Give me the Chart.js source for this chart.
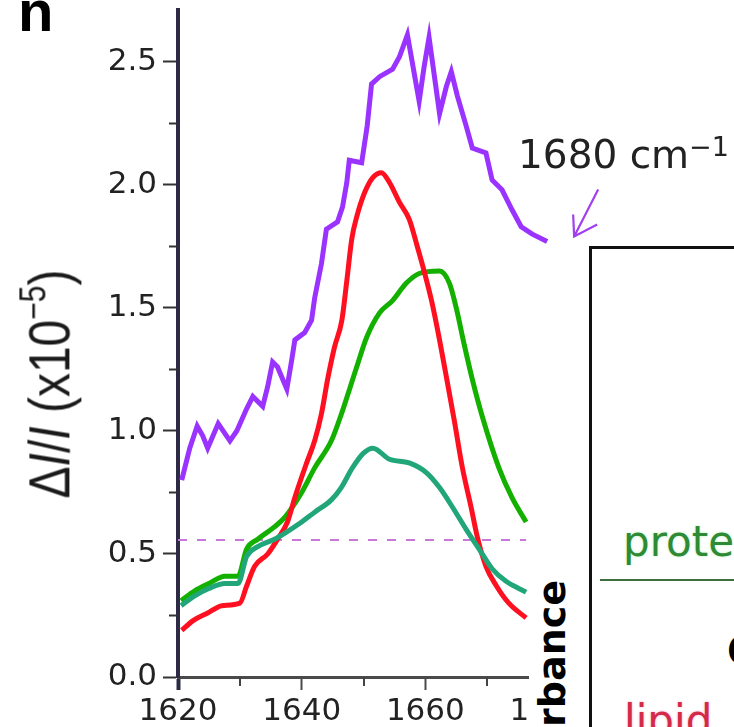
<!DOCTYPE html>
<html>
<head>
<meta charset="utf-8">
<script src="https://cdn.jsdelivr.net/npm/chart.js@4"></script>
<style>
  html, body { margin: 0; padding: 0; background: #fff; overflow: hidden; }
  #wrap { position: relative; width: 734px; height: 727px; overflow: hidden; }
  #chart { position: absolute; left: 0; top: 0; }
  .txt { position: absolute; white-space: nowrap; line-height: 1; }
  #panel { left: 18px; top: -23px; font: bold 58px "Liberation Sans", Arial, sans-serif; color: #000; }
  #ytitle { left: 50px; top: 384px; font: 48px "Liberation Sans", Arial, sans-serif; color: #1a1a1a;
            transform: translate(-50%, -50%) rotate(-90deg) scaleY(1.2); }
  #ytitle sup { font-size: 30px; vertical-align: 20px; line-height: 0; }
  #note { left: 518px; top: 131px; font: 39px "DejaVu Sans", sans-serif; color: #222; }
  #note span { font-size: 27px; vertical-align: 12px; }
  #inset { position: absolute; left: 589px; top: 246px; width: 200px; height: 600px;
           border-left: 3px solid #111; border-top: 3px solid #111; background: #fff; }
  #cover { position: absolute; left: 529px; top: 300px; width: 60px; height: 427px; background: #fff; }
  #absorb { left: 530px; top: 580px; font: bold 38px "DejaVu Sans", sans-serif; color: #000;
            transform-origin: 0 0; transform: rotate(-90deg) translateX(-100%); }
  #prot { left: 623px; top: 517px; font: 42px "DejaVu Sans", sans-serif; color: #2f8a35;
          text-shadow: 0 0 3px #bdf0bd; }
  #protline { position: absolute; left: 600px; top: 579px; width: 140px; height: 0; border-top: 2px solid #3d6e3d; }
  #lipid { left: 624px; top: 696px; font: 42px "DejaVu Sans", sans-serif; color: #d42a4a;
           text-shadow: 0 0 3px #f5b8c8; }
  #cut { left: 727px; top: 628px; font: bold 40px "DejaVu Sans", sans-serif; color: #000; }
</style>
</head>
<body>
<div id="wrap">
  <canvas id="chart" width="734" height="727"></canvas>
  <div class="txt" id="panel">n</div>
  <div class="txt" id="ytitle">Δ<i>I</i>/<i>I</i> (x10<sup>−5</sup>)</div>
  <div class="txt" id="note">1680 cm<span>−1</span></div>
  <div id="inset"></div>
  <div id="cover"></div>
  <div class="txt" id="absorb">Absorbance</div>
  <div class="txt" id="prot">protein</div>
  <div id="protline"></div>
  <div class="txt" id="lipid">lipid</div>
  <div class="txt" id="cut">C</div>
</div>
<script>
// Data (wavenumber in cm-1, ΔI/I in 1e-5)
const purpleX = [1620.6, 1621.9, 1623.1, 1624.0, 1624.8, 1626.5, 1628.4, 1629.5, 1631.1, 1632.1,
  1633.7, 1634.5, 1635.3, 1636.1, 1637.6, 1638.4, 1638.9, 1640.5, 1641.6, 1642.1,
  1643.2, 1644.0, 1645.8, 1646.6, 1647.3, 1647.7, 1649.7, 1650.6, 1651.3, 1652.6,
  1654.7, 1655.8, 1657.1, 1659.0, 1659.8, 1660.6, 1662.3, 1663.4, 1664.2, 1665.2,
  1666.6, 1667.6, 1669.8, 1670.8, 1672.4, 1674.0, 1675.5, 1677.3, 1679.7];
const purpleY = [0.80, 0.93, 1.02, 0.98, 0.93, 1.03, 0.96, 1.00, 1.09, 1.14,
  1.10, 1.18, 1.28, 1.26, 1.17, 1.29, 1.37, 1.40, 1.45, 1.54,
  1.68, 1.82, 1.85, 1.91, 2.01, 2.10, 2.09, 2.24, 2.41, 2.44,
  2.47, 2.52, 2.61, 2.34, 2.48, 2.60, 2.29, 2.40, 2.46, 2.36,
  2.24, 2.15, 2.13, 2.02, 1.98, 1.90, 1.83, 1.80, 1.77];

const redX = [1620.6, 1622.5, 1624.8, 1627.1, 1630.0, 1631.1, 1632.4, 1634.5, 1636.1, 1637.7,
  1638.9, 1640.8, 1642.1, 1643.2, 1644.2, 1645.3, 1646.5, 1647.3, 1648.1, 1648.9,
  1650.2, 1651.5, 1652.9, 1654.2, 1655.8, 1657.4, 1658.7, 1659.8, 1661.0, 1662.3,
  1663.4, 1664.7, 1666.0, 1667.4, 1668.4, 1669.8, 1671.5, 1673.5, 1676.3];
const redY = [0.19, 0.23, 0.26, 0.29, 0.30, 0.37, 0.45, 0.50, 0.56, 0.63,
  0.73, 0.87, 0.96, 1.07, 1.21, 1.34, 1.45, 1.61, 1.78, 1.87,
  1.97, 2.03, 2.05, 2.01, 1.93, 1.86, 1.75, 1.65, 1.53, 1.37,
  1.22, 1.04, 0.85, 0.69, 0.57, 0.45, 0.37, 0.30, 0.24];

const greenX = [1620.5, 1622.7, 1625.0, 1627.6, 1629.7, 1631.1, 1632.9, 1635.6, 1637.3, 1640.0,
  1642.1, 1644.8, 1646.3, 1648.9, 1650.5, 1652.6, 1654.7, 1656.9, 1659.0,
  1662.3, 1663.9, 1665.0, 1666.3, 1667.6, 1669.2, 1671.9, 1674.0, 1676.3];
const greenY = [0.31, 0.35, 0.38, 0.41, 0.41, 0.52, 0.56, 0.61, 0.65, 0.75,
  0.85, 0.96, 1.06, 1.26, 1.38, 1.48, 1.53, 1.60, 1.64,
  1.65, 1.60, 1.50, 1.35, 1.21, 1.06, 0.85, 0.73, 0.63];

const tealX = [1620.5, 1622.7, 1625.0, 1627.6, 1629.7, 1631.1, 1632.9, 1635.6, 1637.3, 1640.0,
  1642.1, 1644.8, 1646.4, 1648.2, 1650.0, 1651.5, 1654.2, 1657.4, 1660.2, 1662.3, 1664.4,
  1666.6, 1668.7, 1670.8, 1673.0, 1676.3];
const tealY = [0.29, 0.33, 0.36, 0.38, 0.38, 0.49, 0.53, 0.56, 0.585, 0.63,
  0.67, 0.72, 0.77, 0.85, 0.91, 0.93, 0.885, 0.87, 0.83, 0.77, 0.69,
  0.60, 0.52, 0.44, 0.39, 0.345];

const baseX = [1620, 1676.3];
const baseY = [0.557, 0.557];

const xMajor = [1620, 1640, 1660, 1680];
const xMinor = [1630, 1650, 1670];
const yMinor = [0.25, 0.75, 1.25, 1.75, 2.25];

function pts(xs, ys) {
  return xs.map((x, i) => ({ x: x, y: ys[i] }));
}

// minor ticks + arrow to the 1680 trace
const extras = {
  id: 'extras',
  afterDraw(chart) {
    const { ctx, chartArea } = chart;
    const x = chart.scales.x, y = chart.scales.y;
    ctx.save();
    ctx.lineWidth = 2;
    ctx.strokeStyle = '#333';
    yMinor.forEach(v => {
      const py = Math.round(y.getPixelForValue(v)) + 0.5;
      ctx.beginPath();
      ctx.moveTo(chartArea.left - 9, py);
      ctx.lineTo(chartArea.left, py);
      ctx.stroke();
    });
    ctx.strokeStyle = '#444';
    xMinor.forEach(v => {
      const px = Math.round(x.getPixelForValue(v));
      ctx.beginPath();
      ctx.moveTo(px, chartArea.bottom);
      ctx.lineTo(px, chartArea.bottom + 9);
      ctx.stroke();
    });

    // arrow
    const n = purpleX.length - 1;
    const tx = x.getPixelForValue(purpleX[n]) + 27;
    const ty = y.getPixelForValue(purpleY[n]) - 5;
    ctx.strokeStyle = '#a040f0';
    ctx.lineWidth = 2.2;
    ctx.beginPath();
    ctx.moveTo(tx + 24, ty - 47);
    ctx.lineTo(tx, ty);
    ctx.moveTo(tx - 1, ty - 22);
    ctx.lineTo(tx, ty);
    ctx.lineTo(tx + 23, ty - 12);
    ctx.stroke();
    ctx.restore();
  }
};

const ctx = document.getElementById('chart').getContext('2d');
new Chart(ctx, {
  type: 'line',
  data: {
    datasets: [
      { label: '1680', data: pts(purpleX, purpleY), borderColor: '#9a33ff', borderWidth: 5, tension: 0 },
      { label: 'teal', data: pts(tealX, tealY), borderColor: '#21a67a', borderWidth: 5, cubicInterpolationMode: 'monotone' },
      { label: 'red', data: pts(redX, redY), borderColor: '#ff1020', borderWidth: 5, cubicInterpolationMode: 'monotone' },
      { label: 'green', data: pts(greenX, greenY), borderColor: '#14b000', borderWidth: 5, cubicInterpolationMode: 'monotone' },
      { label: 'base', data: pts(baseX, baseY), borderColor: '#c878d8', borderWidth: 2, borderDash: [9, 10] }
    ]
  },
  options: {
    responsive: false,
    animation: false,
    elements: { point: { radius: 0 } },
    layout: { padding: { top: 10, right: 185, left: 0, bottom: 0 } },
    plugins: { legend: { display: false }, tooltip: { enabled: false } },
    scales: {
      x: {
        type: 'linear',
        min: 1620,
        max: 1680,
        afterFit: s => { s.height = 50; s.paddingLeft = 0; s.paddingRight = 0; },
        afterBuildTicks: s => { s.ticks = xMajor.map(v => ({ value: v })); },
        ticks: {
          autoSkip: false, maxRotation: 0, padding: 3, color: '#222',
          font: { family: 'DejaVu Sans', size: 31 },
          callback: v => String(v)
        },
        grid: {
          drawOnChartArea: false, tickLength: 13,
          tickWidth: c => (c.tick && c.tick.value === 1620 ? 4 : 2),
          tickColor: c => (c.tick && c.tick.value === 1620 ? '#2c2a44' : '#4a4a4a')
        },
        border: { color: '#4a4a4a', width: 3 }
      },
      y: {
        min: 0,
        max: 2.711,
        afterFit: s => { s.width = 178; s.paddingTop = 0; s.paddingBottom = 0; },
        ticks: {
          stepSize: 0.5, includeBounds: false, padding: 6, color: '#222',
          font: { family: 'DejaVu Sans', size: 31 },
          callback: v => v.toFixed(1)
        },
        grid: { drawOnChartArea: false, tickLength: 15, tickWidth: 2, tickColor: '#333' },
        border: { color: '#2c2a44', width: 4 }
      }
    }
  },
  plugins: [extras]
});
</script>
</body>
</html>
